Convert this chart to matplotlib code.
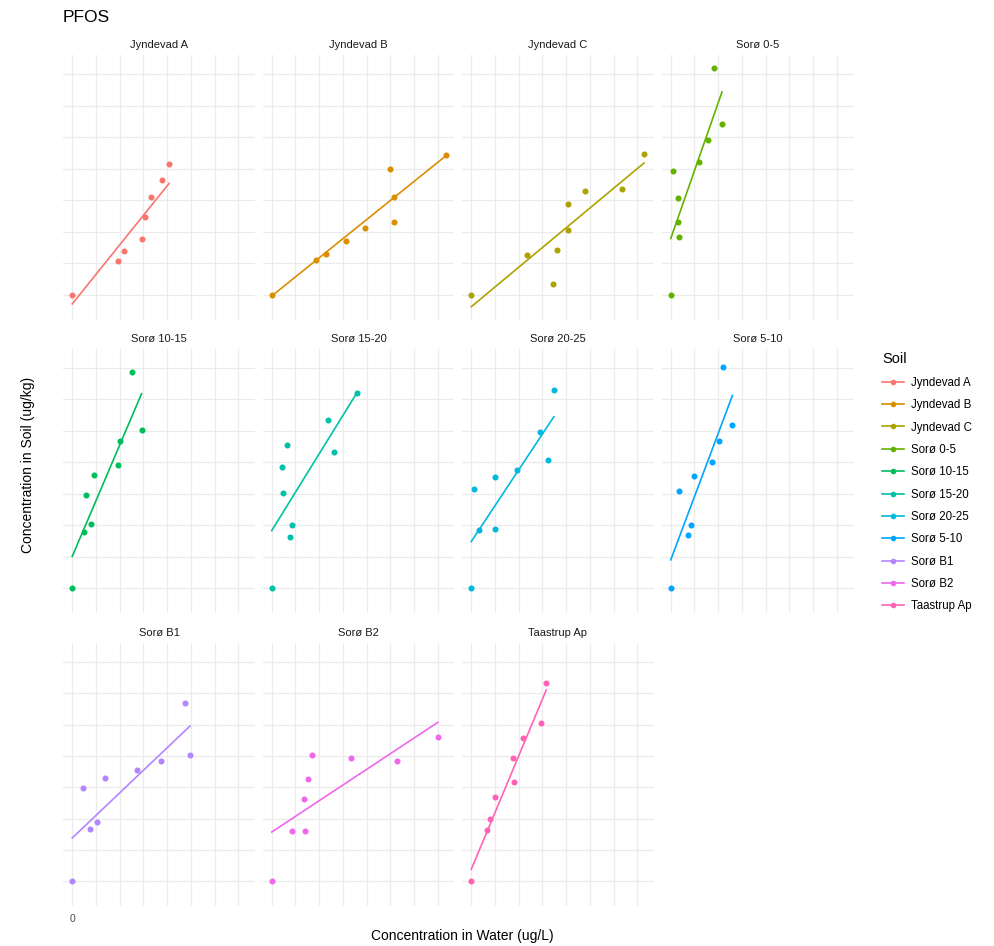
import numpy as np
import matplotlib.pyplot as plt
from matplotlib.lines import Line2D

plt.rcParams['font.family'] = ['Liberation Sans', 'DejaVu Sans']

soils = ['Jyndevad A', 'Jyndevad B', 'Jyndevad C', 'Sorø 0-5', 'Sorø 10-15',
         'Sorø 15-20', 'Sorø 20-25', 'Sorø 5-10', 'Sorø B1', 'Sorø B2', 'Taastrup Ap']
colors = ['#F8766D', '#DB8E00', '#AEA200', '#64B200', '#00BD5C', '#00C1A7',
          '#00BADE', '#00A6FF', '#B385FF', '#EF67EB', '#FF63B6']

# concentration in water (ug/L), one list per soil
water_conc = [
    [0, 0.48, 0.55, 0.73, 0.77, 0.83, 0.95, 1.02],
    [0, 0.47, 0.57, 0.785, 0.98, 1.25, 1.29, 1.29, 1.84],
    [0, 0.59, 0.865, 0.905, 1.015, 1.015, 1.20, 1.59, 1.82],
    [0, 0.02, 0.08, 0.08, 0.09, 0.295, 0.39, 0.46, 0.54],
    [0, 0.12, 0.20, 0.15, 0.23, 0.48, 0.50, 0.63, 0.73],
    [0, 0.115, 0.11, 0.16, 0.19, 0.21, 0.59, 0.66, 0.90],
    [0, 0.03, 0.08, 0.255, 0.255, 0.48, 0.72, 0.81, 0.87],
    [0, 0.09, 0.18, 0.21, 0.25, 0.43, 0.505, 0.55, 0.65],
    [0, 0.11, 0.19, 0.265, 0.35, 0.68, 0.94, 1.19, 1.24],
    [0, 0.21, 0.35, 0.34, 0.385, 0.425, 0.83, 1.315, 1.75],
    [0, 0.17, 0.20, 0.25, 0.445, 0.435, 0.54, 0.73, 0.79],
]

# concentration in soil (ug/kg)
soil_conc = [
    [0, 5.4, 6.9, 8.8, 12.4, 15.6, 18.2, 20.8],
    [0, 5.5, 6.5, 8.5, 10.6, 20.0, 15.5, 11.5, 22.2],
    [0, 6.4, 1.7, 7.2, 14.4, 10.3, 16.5, 16.8, 22.4],
    [0, 19.6, 15.3, 11.5, 9.2, 21.1, 24.6, 36.0, 27.0],
    [0, 8.9, 10.2, 14.8, 18.0, 19.5, 23.4, 34.3, 25.2],
    [0, 15.1, 19.2, 22.8, 8.1, 10.0, 26.7, 21.7, 31.0],
    [0, 15.8, 9.2, 17.7, 9.4, 18.8, 24.8, 20.4, 31.5],
    [0, 15.4, 8.5, 10.0, 17.8, 20.1, 23.4, 35.2, 26.0],
    [0, 14.9, 8.3, 9.4, 16.4, 17.7, 19.2, 28.4, 20.2],
    [0, 8.0, 8.0, 13.1, 16.3, 20.1, 19.6, 19.2, 23.0],
    [0, 8.1, 9.9, 13.5, 15.8, 19.6, 22.9, 25.3, 31.6],
]

# linear fit per soil: soil = intercept + slope * water
fit_intercept = [-1.4, -0.15, -1.85, 8.95, 5.05, 9.15, 7.4, 4.5, 6.9, 7.85, 1.9]
fit_slope = [18.7, 12.1, 12.5, 43.0, 35.4, 24.4, 22.8, 40.2, 14.4, 10.0, 36.2]

W, H = 994, 946
fig = plt.figure(figsize=(W / 100, H / 100), dpi=100)

col_left = [63, 262.5, 462, 661.5]
panel_w = 192
row_top = [55, 349, 643]
row_bottom = [320, 613, 906]

xlim = (-0.0975, 1.925)
ylim = (-3.95, 38.0)
xgrid = np.arange(0, 1.8, 0.25)
ygrid = np.arange(0, 36, 5)

for i, soil in enumerate(soils):
    r, c = divmod(i, 4)
    left, top, bottom = col_left[c], row_top[r], row_bottom[r]
    ax = fig.add_axes([left / W, 1 - bottom / H, panel_w / W, (bottom - top) / H])
    ax.set_xlim(*xlim)
    ax.set_ylim(*ylim)
    ax.set_xticks(xgrid)
    ax.set_yticks(ygrid)
    ax.grid(True, color='#EBEBEB', linewidth=0.9)
    ax.set_axisbelow(True)
    for s in ax.spines.values():
        s.set_visible(False)
    ax.tick_params(length=0, labelleft=False, labelbottom=False)
    if soil == 'Sorø B1':
        ax.tick_params(labelbottom=True, labelsize=7.5, labelcolor='#4D4D4D', pad=6)
        ax.set_xticklabels(['0'] + [''] * (len(xgrid) - 1))

    xs = np.array(water_conc[i])
    ys = np.array(soil_conc[i])
    ax.scatter(xs, ys, s=19, color=colors[i], zorder=3, linewidths=0)
    xl = np.array([0, xs.max()])
    ax.plot(xl, fit_intercept[i] + fit_slope[i] * xl, color=colors[i], lw=1.2, zorder=2)
    ax.set_title(soil, fontsize=8, color='#1A1A1A', pad=5)

fig.text(63 / W, 1 - 17 / H, 'PFOS', fontsize=12.5, va='center', ha='left')
fig.text(28 / W, 1 - 465 / H, 'Concentration in Soil (ug/kg)', fontsize=10,
         rotation=90, va='center', ha='center')
fig.text(462 / W, 1 - 936 / H, 'Concentration in Water (ug/L)', fontsize=10,
         va='center', ha='center')

handles = [Line2D([0], [0], color=col, lw=1.2, marker='o', markersize=3)
           for col in colors]
fig.legend(handles, soils, title='Soil', loc='upper left',
           bbox_to_anchor=(872 / W, 1 - 342 / H), frameon=False,
           fontsize=8.3, title_fontsize=10.5, handlelength=1.9, labelspacing=0.9,
           handletextpad=0.6, alignment='left')

fig.savefig('out.png', dpi=100)
